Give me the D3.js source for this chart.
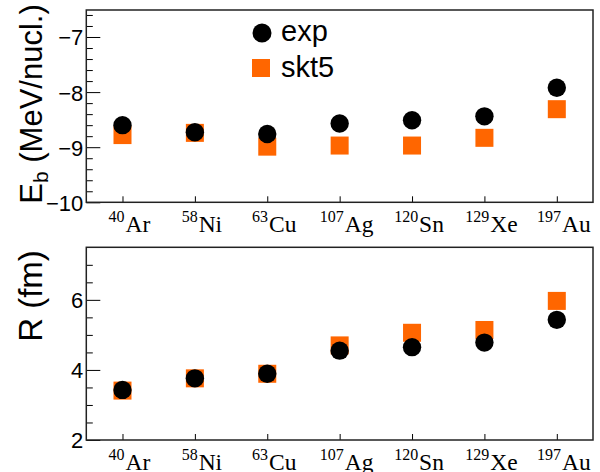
<!DOCTYPE html>
<html><head><meta charset="utf-8">
<script src="https://cdn.jsdelivr.net/npm/d3@7"></script>
<style>body{margin:0;background:#fff} svg{display:block}</style>
</head><body>
<svg id="c" width="600" height="472"></svg>
<script>
const nuclei = ["Ar","Ni","Cu","Ag","Sn","Xe","Au"];
const massNumbers = ["40","58","63","107","120","129","197"];
const ebExp = [-8.60,-8.73,-8.76,-8.57,-8.51,-8.44,-7.92];
const ebSkt5 = [-8.78,-8.74,-8.99,-8.97,-8.97,-8.83,-8.31];
const rExp = [3.43,3.76,3.89,4.55,4.65,4.78,5.43];
const rSkt5 = [3.41,3.76,3.89,4.70,5.06,5.14,5.97];
const ebMajorTicks = [-10,-9,-8,-7];
const rMajorTicks = [2,4,6];
const seriesNames = ["exp","skt5"];

const svg = d3.select("#c");
const ORANGE = "#ff6600";
const SANS = "'Liberation Sans', Arial, Helvetica, sans-serif";
const SERIF = "'Liberation Serif', 'Times New Roman', serif";

const x = d3.scalePoint().domain(nuclei).range([86.3, 593]).padding(0.5);

function panel(opts){
  const {y0, y1, domain, major, minor, exp, skt5, title, titleY, sub, titleSize} = opts;
  const y = d3.scaleLinear().domain(domain).range([y1, y0]);
  const g = svg.append("g");
  // minor ticks
  g.append("g").attr("transform", `translate(86.3,0)`)
    .call(d3.axisLeft(y).tickValues(minor).tickSize(-6.5).tickFormat(""))
    .call(a => a.select(".domain").remove())
    .call(a => a.selectAll("line").attr("stroke","#000").attr("stroke-width",1));
  // major ticks + labels
  g.append("g").attr("transform", `translate(86.3,0)`)
    .call(d3.axisLeft(y).tickValues(major).tickSize(-14).tickPadding(3).tickFormat(d3.format("d")))
    .call(a => a.select(".domain").remove())
    .call(a => a.selectAll("line").attr("stroke","#000").attr("stroke-width",1))
    .call(a => a.selectAll("text").attr("font-family",SANS).attr("font-size",22).attr("fill","#000")
       .attr("x",-3).attr("dy","0.36em"));
  // x ticks
  const xa = g.append("g").attr("transform", `translate(0,${y1})`)
    .call(d3.axisBottom(x).tickSize(-6).tickFormat(""))
    .call(a => a.select(".domain").remove())
    .call(a => a.selectAll("line").attr("stroke","#000").attr("stroke-width",1));
  xa.selectAll(".tick").each(function(d,i){
    const t = d3.select(this).append("text")
      .attr("x",6.5).attr("y",29.5).attr("text-anchor","middle")
      .attr("font-family",SERIF).attr("fill","#000");
    t.append("tspan").attr("font-size",16).attr("dy",-10).text(massNumbers[i]);
    t.append("tspan").attr("font-size",23.5).attr("dy",10).attr("dx",1).text(d);
  });
  // frame
  g.append("rect").attr("x",86.3).attr("y",y0).attr("width",593-86.3).attr("height",y1-y0)
    .attr("fill","none").attr("stroke","#222").attr("stroke-width",1.5);
  // data
  g.selectAll("rect.sk").data(skt5).join("rect").attr("class","sk")
    .attr("x",(d,i)=>x(nuclei[i])-9).attr("y",d=>y(d)-9).attr("width",18).attr("height",18)
    .attr("fill",ORANGE);
  g.selectAll("circle.ex").data(exp).join("circle").attr("class","ex")
    .attr("cx",(d,i)=>x(nuclei[i])).attr("cy",d=>y(d)).attr("r",9.2).attr("fill","#000");
  // title
  const tt = svg.append("text").attr("transform",`translate(42,${titleY}) rotate(-90)`)
    .attr("text-anchor","middle").attr("font-family",SANS).attr("font-size",titleSize).attr("fill","#000");
  tt.append("tspan").text(title[0]);
  if (sub){
    tt.append("tspan").attr("font-size",21).attr("dy",6).text(sub);
    tt.append("tspan").attr("dy",-6).text(title[1]);
  }
  return y;
}

panel({y0:10, y1:202.3, domain:[-10,-6.51], major:ebMajorTicks,
  minor:d3.range(-10,-6.5,0.2).map(v=>+v.toFixed(1)).filter(v=>!ebMajorTicks.includes(v)),
  exp:ebExp, skt5:ebSkt5, title:["E"," (MeV/nucl.)"], sub:"b", titleY:104, titleSize:31});
panel({y0:247.3, y1:440, domain:[2,7.5], major:rMajorTicks,
  minor:d3.range(2,7.5,0.5).filter(v=>!rMajorTicks.includes(v)),
  exp:rExp, skt5:rSkt5, title:["R (fm)"], sub:null, titleY:296, titleSize:33});

// legend
const lg = svg.append("g");
lg.append("circle").attr("cx",262).attr("cy",33).attr("r",9.5).attr("fill","#000");
lg.append("rect").attr("x",252).attr("y",59).attr("width",18).attr("height",18).attr("fill",ORANGE);
lg.append("text").attr("x",281).attr("y",41).attr("font-family",SANS).attr("font-size",29).text(seriesNames[0]);
lg.append("text").attr("x",281).attr("y",77).attr("font-family",SANS).attr("font-size",29).text(seriesNames[1]);
</script>
</body></html>
